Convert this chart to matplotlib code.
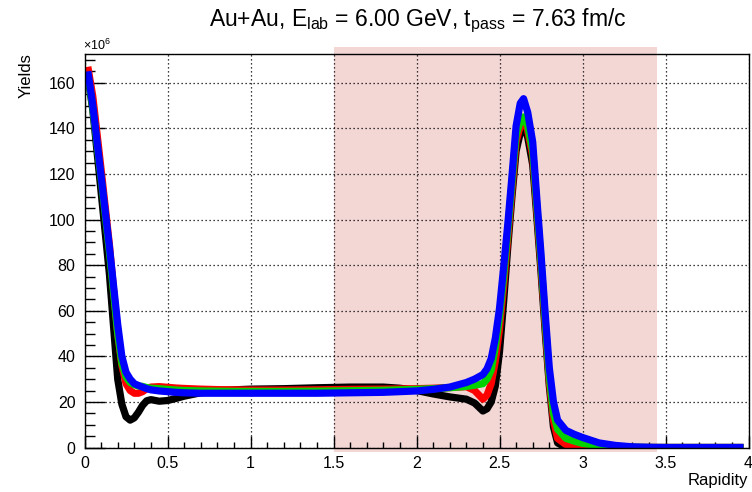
import matplotlib
matplotlib.use("Agg")
import matplotlib.pyplot as plt
from matplotlib.patches import Rectangle
from matplotlib.ticker import MultipleLocator

plt.rcParams['font.family'] = ['Liberation Sans', 'DejaVu Sans']
plt.rcParams['mathtext.fontset'] = 'custom'
plt.rcParams['mathtext.rm'] = 'Liberation Sans'
plt.rcParams['mathtext.it'] = 'Liberation Sans'

rapidity = [0.02, 0.05, 0.1, 0.15, 0.2, 0.225, 0.25, 0.275, 0.3, 0.325,
            0.35, 0.375, 0.4, 0.45, 0.5, 0.55, 0.6, 0.7, 0.8, 0.9,
            1.0, 1.2, 1.4, 1.6, 1.8, 1.9, 2.0, 2.1, 2.2, 2.3,
            2.35, 2.4, 2.425, 2.45, 2.475, 2.5, 2.525, 2.55, 2.575, 2.6,
            2.625, 2.645, 2.67, 2.7, 2.725, 2.75, 2.775, 2.8, 2.825, 2.85,
            2.9, 2.95, 3.0, 3.1, 3.2, 3.3, 3.4, 3.5, 3.7, 3.97]

yields_black = [163, 148, 112, 76, 30, 19, 13.5, 12, 13, 15.5,
                18.5, 20.5, 21, 20.3, 20.6, 21.5, 22.5, 24, 24.8, 25.3,
                25.6, 25.8, 26.2, 26.5, 26.5, 26, 25, 23.5, 22.2, 21.2,
                19.5, 16, 17, 20, 27, 42, 64, 88, 110, 130,
                138, 141.5, 136, 124, 101, 77, 51, 27, 9, 2,
                0, 0, 0, 0, 0, 0, 0, 0, 0, 0]

yields_red = [167, 154, 122, 89, 50, 36, 28, 25, 23.8, 23.8,
              24.5, 25.8, 26.5, 26.7, 26.4, 26.1, 25.9, 25.6, 25.4, 25.3,
              25.2, 25.2, 25.3, 25.5, 25.6, 25.7, 25.8, 26, 26.3, 26.7,
              25, 21.2, 23, 28, 38, 52, 71, 92, 113, 134,
              141, 144, 139, 128, 104, 80, 54, 29, 12, 4,
              1.3, 1.0, 0.7, 0.3, 0.1, 0, 0, 0, 0, 0]

yields_green = [164, 149, 118, 86, 50, 37, 31, 28.5, 27.5, 27,
                26.8, 26.3, 26, 25.8, 25.5, 25.2, 25, 24.8, 24.7, 24.6,
                24.6, 24.6, 24.7, 24.9, 25.1, 25.3, 25.5, 25.8, 26.2, 26.8,
                27.3, 28, 30, 34, 44, 57, 75, 95, 116, 137,
                143, 145, 141, 130, 106, 82, 56, 31, 15, 8,
                4, 2.8, 1.8, 0.8, 0.3, 0.1, 0, 0, 0, 0]

yields_blue = [165, 150, 119, 88, 54, 40, 33, 30, 28, 27.2,
               26.5, 25.8, 25.3, 24.8, 24.5, 24.2, 24.0, 23.8, 23.8, 23.8,
               23.8, 23.8, 23.8, 24.0, 24.2, 24.5, 24.8, 25.5, 26.5, 28.5,
               30, 32, 34.5, 39, 48, 61, 79, 98, 119, 141,
               151, 153, 147, 134, 109, 85, 59, 35, 20, 12,
               7.5, 5.8, 4.4, 2.0, 0.9, 0.3, 0.1, 0, 0, 0]

shade_range = [1.5, 3.45]
x_range = [0, 4]
y_range = [0, 172.6]

fig = plt.figure(figsize=(7.52, 4.92), dpi=100)
ax = fig.add_axes([84.5/752, 1-447.5/492, 664/752, 393.5/492])
ax.set_xlim(*x_range)
ax.set_ylim(*y_range)

ax.add_patch(Rectangle((shade_range[0], -2), shade_range[1]-shade_range[0], 177.5,
                       facecolor='#f2d7d5', edgecolor='none', zorder=0.2, clip_on=False))

series = [(yields_black, '#000000'), (yields_red, '#ff0000'),
          (yields_green, '#00d200'), (yields_blue, '#0000ff')]
for ys, c in series:
    ax.plot(rapidity, ys, color=c, lw=5.2, solid_joinstyle='round', solid_capstyle='butt', zorder=2)

ax.set_axisbelow(True)
ax.grid(True, color='black', linestyle=(0, (1, 2.2)), lw=0.9)

ax.xaxis.set_major_locator(MultipleLocator(0.5))
ax.xaxis.set_minor_locator(MultipleLocator(0.1))
ax.yaxis.set_major_locator(MultipleLocator(20))
ax.yaxis.set_minor_locator(MultipleLocator(5))
ax.set_xticks([0, 0.5, 1, 1.5, 2, 2.5, 3, 3.5, 4])
ax.set_xticklabels(['0', '0.5', '1', '1.5', '2', '2.5', '3', '3.5', '4'])
ax.tick_params(axis='x', which='major', direction='in', length=8.6, width=1, pad=6, labelsize=11.5)
ax.tick_params(axis='x', which='minor', direction='in', length=4.3, width=1)
ax.tick_params(axis='y', which='major', direction='in', length=14.4, width=1, pad=6.5, labelsize=11.5)
ax.tick_params(axis='y', which='minor', direction='in', length=7.2, width=1)
for s in ax.spines.values():
    s.set_linewidth(1.0)

fig.text(748/752, 1-481/492, 'Rapidity', ha='right', va='center', fontsize=12)
fig.text(26/752, 1-53/492, 'Yields', rotation=90, ha='center', va='top', fontsize=12)
fig.text(83/752, 1-50/492, r'$\times$10$^{6}$', ha='left', va='baseline', fontsize=9)

fig.text(418/752, 1-21/492,
         r'Au+Au, E$_{\mathrm{lab}}$ = 6.00 GeV, t$_{\mathrm{pass}}$ = 7.63 fm/c',
         ha='center', va='center', fontsize=16.5)

fig.savefig('out.png', dpi=100)
